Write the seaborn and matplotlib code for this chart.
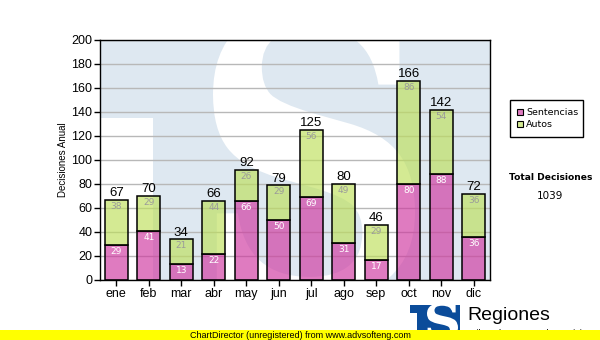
import matplotlib
matplotlib.use("Agg")
import matplotlib.pyplot as plt
import pandas as pd
import seaborn as sns
from matplotlib.patches import Rectangle, PathPatch
from matplotlib.textpath import TextPath
from matplotlib.font_manager import FontProperties
from matplotlib.transforms import Affine2D
from matplotlib.colors import to_rgba

# ---- data ----
months = ["ene", "feb", "mar", "abr", "may", "jun", "jul", "ago", "sep", "oct", "nov", "dic"]
sentencias = [29, 41, 13, 22, 66, 50, 69, 31, 17, 80, 88, 36]
autos = [38, 29, 21, 44, 26, 29, 56, 49, 29, 86, 54, 36]
series_names = ["Sentencias", "Autos"]
y_ticks = list(range(0, 201, 20))

totals = [s + a for s, a in zip(sentencias, autos)]
grand_total = sum(totals)

# ---- style ----
PINK = (207 / 255, 53 / 255, 158 / 255)
GREEN = (189 / 255, 223 / 255, 90 / 255)
BAR_ALPHA = 0.65
WM_BLUE = "#dee8f1"
LOGO_BLUE = "#0b4c9a"

sns.set_theme(style="white")
plt.rcParams["font.family"] = ["Liberation Sans", "DejaVu Sans"]

W, H = 600, 340
fig = plt.figure(figsize=(W / 100, H / 100), dpi=100)
fig.patch.set_facecolor("white")


def fx(x):
    return x / W


def fy(y):
    return 1 - y / H


ax = fig.add_axes([fx(100), fy(280), 390 / W, 240 / H])

# ---- watermark logo behind the plot ----
ax.set_facecolor(WM_BLUE)


def axx(px):
    return (px - 100) / 390


def axy(py):
    return (280 - py) / 240


ax.add_patch(Rectangle((0, 0), axx(153), axy(118), transform=ax.transAxes,
                       facecolor="white", edgecolor="none", zorder=0.1))
s_path = TextPath((0, 0), "S", size=100,
                  prop=FontProperties(family="DejaVu Serif", weight="bold"))
ext = s_path.get_extents()
x0, x1 = axx(213), axx(415)
y0, y1 = axy(300), axy(5)
s_tr = (Affine2D().translate(-ext.x0, -ext.y0)
        .scale((x1 - x0) / ext.width, (y1 - y0) / ext.height)
        .translate(x0, y0) + ax.transAxes)
ax.add_patch(PathPatch(s_path, transform=s_tr, facecolor="white",
                       edgecolor="none", zorder=0.2))

# ---- stacked bars ----
df = pd.DataFrame({"mes": months, "Sentencias": sentencias, "Autos": autos})
sns.barplot(data=df, x="mes", y="Sentencias", color=PINK, saturation=1,
            width=0.7, edgecolor="black", linewidth=1.1, errorbar=None,
            ax=ax, zorder=2)
sns.barplot(data=df, x="mes", y="Autos", bottom=df["Sentencias"].values,
            color=GREEN, saturation=1, width=0.7, edgecolor="black",
            linewidth=1.1, errorbar=None, ax=ax, zorder=2)
for cont, col in zip(ax.containers, [PINK, GREEN]):
    for bar in cont:
        bar.set_facecolor(to_rgba(col, BAR_ALPHA))
        bar.set_edgecolor("black")

# ---- value labels ----
for i, (s, a, t) in enumerate(zip(sentencias, autos, totals)):
    ax.annotate(str(t), (i, t), xytext=(0, 0.5), textcoords="offset points",
                ha="center", va="bottom", fontsize=9.5, color="black", zorder=5)
    ax.annotate(str(s), (i, s), xytext=(0, -1.5), textcoords="offset points",
                ha="center", va="top", fontsize=6.5, color="white",
                family="DejaVu Sans", zorder=5)
    ax.annotate(str(a), (i, t), xytext=(0, -1.5), textcoords="offset points",
                ha="center", va="top", fontsize=6.5, color="#9a9a9a",
                family="DejaVu Sans", zorder=5)

# ---- axes ----
ax.set_xlim(-0.5, len(months) - 0.5)
ax.set_ylim(0, 200)
ax.set_yticks(y_ticks)
ax.set_xlabel("")
ax.set_ylabel("Decisiones Anual", fontsize=7, color="black")
ax.yaxis.set_label_coords(axx(68), 0.5)
ax.yaxis.grid(True, color="#b8b8b8", linewidth=1)
ax.xaxis.grid(False)
ax.set_axisbelow(True)
for g in ax.get_ygridlines():
    g.set_zorder(0.5)
ax.tick_params(axis="both", direction="out", length=4, width=1,
               color="black", labelsize=9, labelcolor="black", pad=1.5)
ax.tick_params(axis="x", pad=2)
ax.tick_params(left=True, bottom=True)
for sp in ax.spines.values():
    sp.set_visible(True)
    sp.set_color("black")
    sp.set_linewidth(1)
    sp.set_zorder(6)

# ---- legend box ----
fig.add_artist(Rectangle((fx(510), fy(137)), 73 / W, 37 / H, transform=fig.transFigure,
                         facecolor="white", edgecolor="black", linewidth=1))
for k, (name, col) in enumerate(zip(series_names, [PINK, GREEN])):
    ytop = 109 + 12 * k
    fig.add_artist(Rectangle((fx(517), fy(ytop + 6)), 6 / W, 6 / H,
                             transform=fig.transFigure,
                             facecolor=to_rgba(col, BAR_ALPHA), edgecolor="black",
                             linewidth=0.8))
    fig.text(fx(526), fy(ytop + 3.5), name, ha="left", va="center",
             fontsize=6.8, family="DejaVu Sans", color="black")

fig.text(fx(551), fy(177), "Total Decisiones", ha="center", va="center",
         fontsize=6.6, fontweight="bold", family="DejaVu Sans", color="black")
fig.text(fx(550), fy(196), str(grand_total), ha="center", va="center",
         fontsize=7.5, family="DejaVu Sans", color="black")

# ---- footer logo ----
logo_rect = Rectangle((fx(410), fy(331)), 50 / W, 26 / H, transform=fig.transFigure,
                      facecolor=LOGO_BLUE, edgecolor="none", zorder=3)
fig.add_artist(logo_rect)
fig.add_artist(Rectangle((fx(410), fy(331)), 7 / W, 18 / H, transform=fig.transFigure,
                         facecolor="white", edgecolor="none", zorder=3.1))
ls_path = TextPath((0, 0), "S", size=100,
                   prop=FontProperties(family="DejaVu Serif", weight="bold"))
lext = ls_path.get_extents()
lx0, lx1 = fx(427), fx(458)
ly0, ly1 = fy(338), fy(303)
ls_tr = (Affine2D().translate(-lext.x0, -lext.y0)
         .scale((lx1 - lx0) / lext.width, (ly1 - ly0) / lext.height)
         .translate(lx0, ly0) + fig.transFigure)
logo_s = PathPatch(ls_path, transform=ls_tr, facecolor="white", edgecolor="none",
                   zorder=3.2)
fig.add_artist(logo_s)
logo_s.set_clip_path(logo_rect)
fig.text(fx(467), fy(315), "Regiones", ha="left", va="center", fontsize=14,
         color="black", zorder=3)
fig.text(fx(468), fy(333), "Tribunal Supremo de Justicia", ha="left", va="center",
         fontsize=6.6, color="black", zorder=3)

# ---- unregistered banner ----
fig.add_artist(Rectangle((0, 0), 1, 10 / H, transform=fig.transFigure,
                         facecolor="#ffff00", edgecolor="none", zorder=10))
fig.text(0.5, fy(335), "ChartDirector (unregistered) from www.advsofteng.com",
         ha="center", va="center", fontsize=6.5, color="black", zorder=11)

fig.savefig("out.png", dpi=100)
